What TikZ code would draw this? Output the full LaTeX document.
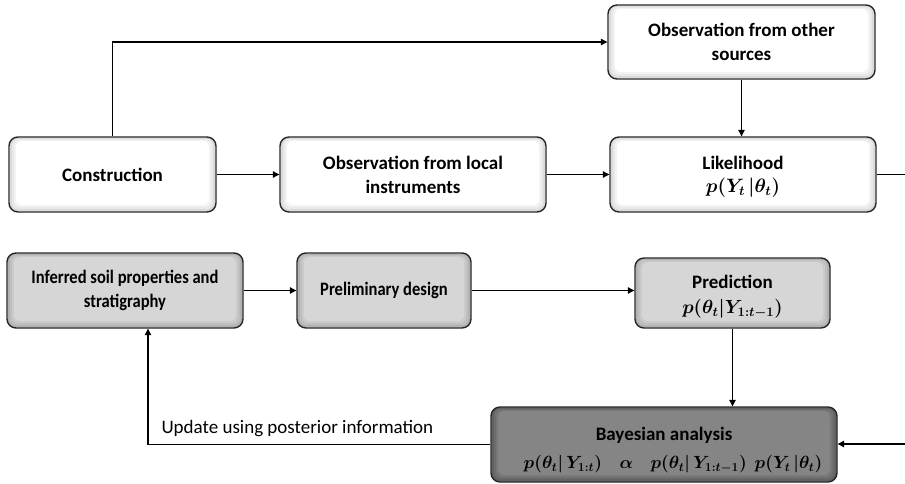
\documentclass[tikz,border=0pt]{standalone}
\usepackage{amsmath,bm}
\usepackage{fontspec}
\setmainfont{Carlito}
\newfontfamily\narrowfont[FakeStretch=0.87]{Carlito}
\usetikzlibrary{arrows.meta}

\colorlet{lightbase}{white}
\colorlet{lightedge}{black!14}
\colorlet{midbase}{black!16}
\colorlet{midedge}{black!30}
\colorlet{darkbase}{black!48}
\colorlet{darkedge}{black!62}

% bold formula, set at 17.28pt and scaled by #1
\newcommand{\boldeq}[2]{\scalebox{#1}{\fontsize{17.28}{21}\selectfont$\bm{#2}$}}

\begin{document}
\begin{tikzpicture}[x=1pt,y=-1pt,
  box/.style={draw=black!85, line width=1.4pt, rounded corners=9pt,
    font=\fontsize{19}{24}\selectfont\bfseries, align=center, inner sep=0pt,
    minimum height=75pt},
  bevel/.style 2 args={fill=#1, path picture={
    \foreach \d/\p in {1/0,3/35,5/65,7/100}{
      \fill[#1!\p!#2, rounded corners=6pt]
        ([shift={(\d pt,-0.6*\d pt)}]path picture bounding box.north west) rectangle
        ([shift={(-\d pt,\d pt)}]path picture bounding box.south east);}}},
  lightbox/.style={box, bevel={lightbase}{lightedge}},
  midbox/.style={box, bevel={midbase}{midedge}},
  darkbox/.style={box, bevel={darkbase}{darkedge}},
  narrow/.style={font=\fontsize{19}{24}\narrowfont\bfseries},
  boxtext/.style={font=\fontsize{19}{24}\selectfont\bfseries, align=center, inner sep=0pt},
  arr/.style={draw=black, line width=1.1pt, -{Triangle[length=6.5pt,width=6.5pt]}},
  link/.style={draw=black, line width=1.1pt}
]
\useasboundingbox (0,0) rectangle (905,484);

% upper row: observations feeding the likelihood
\node[lightbox, minimum width=207pt] (constr) at (112.5,174.5) {Construction};
\node[lightbox, minimum width=266pt] (local) at (413,174.5)
  {Observation from local\\instruments};
\node[lightbox, minimum width=266pt] (lik) at (743,174.5) {};
\node[boxtext] (liktext) at ([yshift=-2pt]lik.center)
  {Likelihood\\[-1pt]\boldeq{1.12}{p(Y_t\,|\theta_t)}};
\node[lightbox, minimum width=267pt, minimum height=74pt] (other) at (741.5,42)
  {Observation from other\\sources};

% lower row: prior knowledge and prediction
\node[midbox, narrow, minimum width=236pt] (infer) at (125,290.5)
  {Inferred soil properties and\\stratigraphy};
\node[midbox, narrow, minimum width=174pt] (prelim) at (384,290.5) {Preliminary design};
\node[midbox, minimum width=195pt, minimum height=70pt] (pred) at (732.5,293) {};
\node[boxtext] (predtext) at ([yshift=-4pt]pred.center)
  {Prediction\\[1pt]\boldeq{1.1}{p(\theta_t|Y_{1:t-1})}};

% Bayesian update
\node[darkbox, minimum width=346pt] (bayes) at (664,444.5) {};
\node[boxtext] (bayestext) at ([yshift=-6pt]bayes.center)
  {Bayesian analysis\\[4pt]
   \hspace*{18pt}\boldeq{1.02}{p(\theta_t|\,Y_{1:t})\quad\alpha\quad p(\theta_t|\,Y_{1:t-1})\ \ p(Y_t\,|\theta_t)}};

% connectors
\draw[arr] (constr.north) |- (other.west);
\draw[arr] (constr.east) -- (local.west);
\draw[arr] (local.east) -- (lik.west);
\draw[arr] (other.south) -- (other.south |- lik.north);
\coordinate (likout) at (905,174.5);
\coordinate (bayesin) at (905,444);
\draw[link] (lik.east) -- (likout);
\draw[arr] (bayesin) -- (bayes.east |- bayesin);
\draw[arr] (infer.east) -- (prelim.west);
\draw[arr] (prelim.east) -- (prelim.east -| pred.west);
\draw[arr] (pred.south) -- (pred.south |- bayes.north);
\coordinate (back) at ([xshift=23pt]infer.south);
\draw[arr] (bayes.west) -| (back);
\node[anchor=base west, font=\fontsize{19}{23}\selectfont] (upd) at (158,433)
  {Update using posterior information};
\end{tikzpicture}
\end{document}
